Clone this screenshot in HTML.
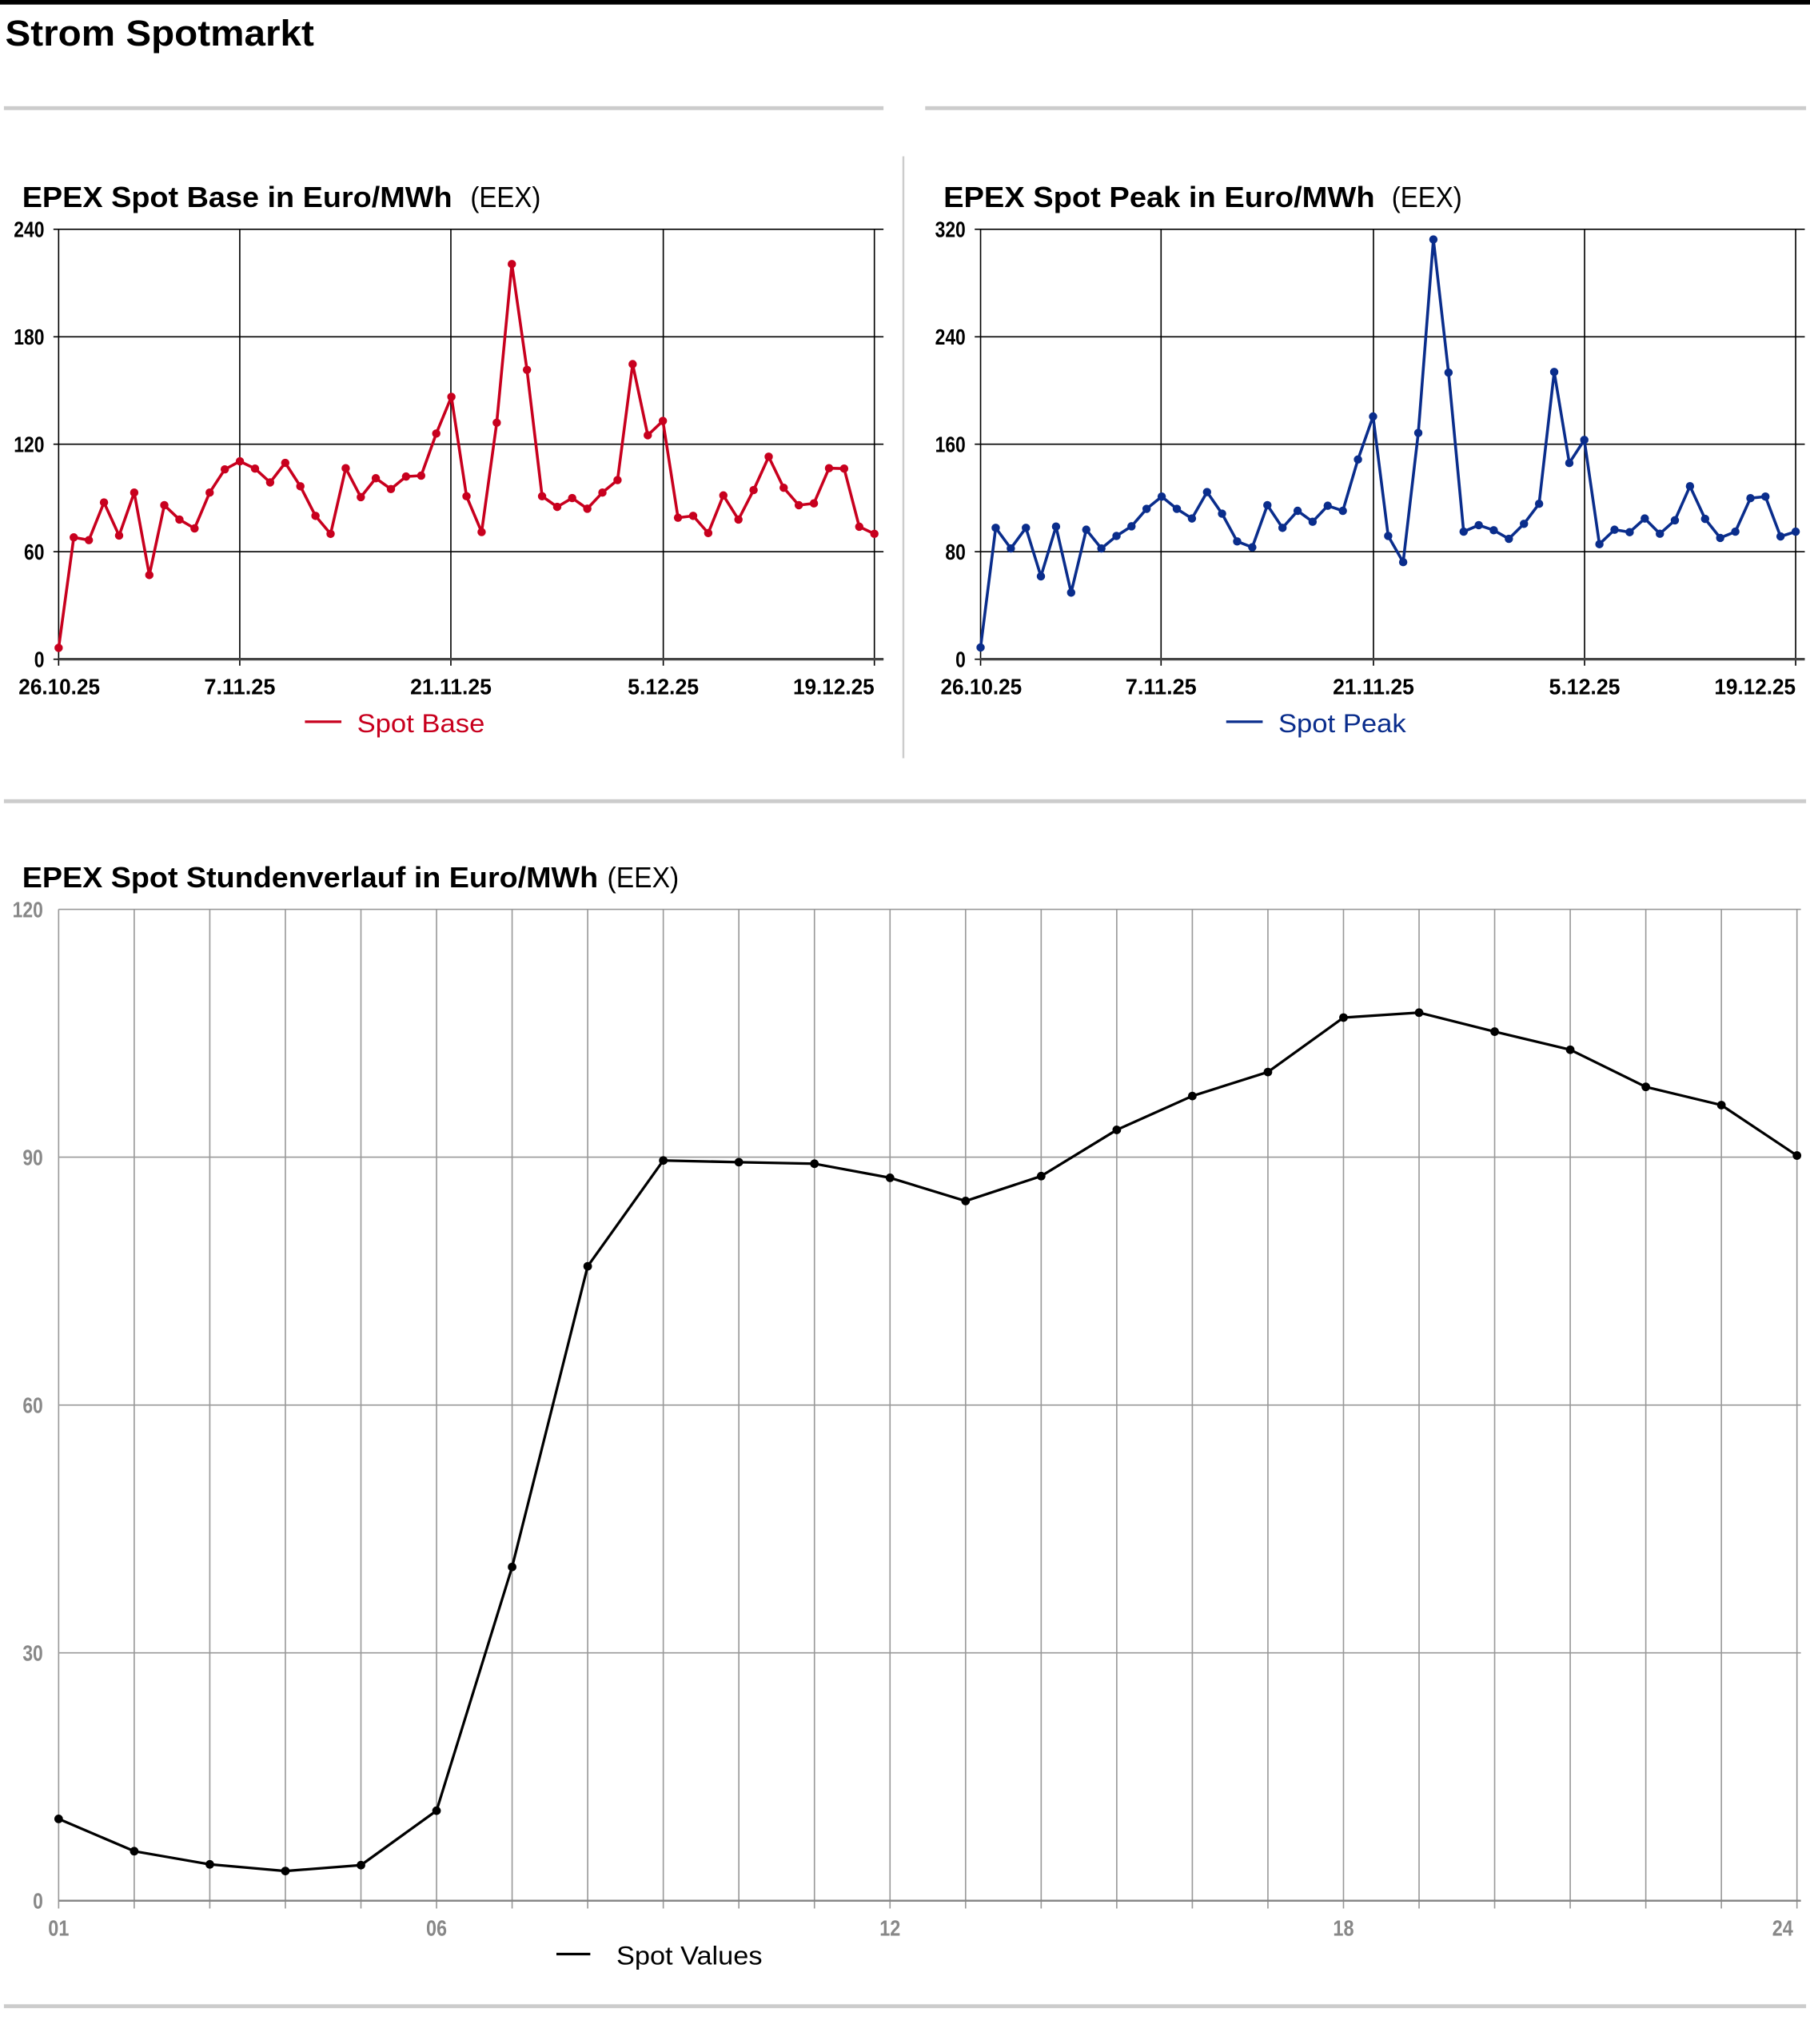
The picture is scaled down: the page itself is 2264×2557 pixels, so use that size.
<!DOCTYPE html>
<html><head><meta charset="utf-8"><style>
html,body{margin:0;padding:0;background:#fff;}
svg{display:block;}
text{font-family:"Liberation Sans",sans-serif;white-space:pre;}
.tk{font-weight:bold;font-size:17px;fill:#000;}
.tg{font-weight:bold;font-size:17px;fill:#888;}
</style></head><body>
<svg id="s" width="2264" height="2557" viewBox="0 0 1389 1569" preserveAspectRatio="none" xmlns="http://www.w3.org/2000/svg" xml:space="preserve">
<rect x="0" y="0" width="1389" height="3.5" fill="#000"/>
<text x="4" y="35" font-size="28" font-weight="bold" textLength="237" lengthAdjust="spacingAndGlyphs">Strom Spotmarkt</text>
<rect x="3" y="81.5" width="675" height="3" fill="#ccc"/>
<rect x="710" y="81.5" width="676" height="3" fill="#ccc"/>
<rect x="692.5" y="120" width="1.5" height="462" fill="#ccc"/>
<rect x="3" y="613.5" width="1383" height="3" fill="#ccc"/>
<rect x="3" y="1538.5" width="1383" height="3" fill="#ccc"/>
<text x="17" y="159" font-size="22" font-weight="bold" textLength="330" lengthAdjust="spacingAndGlyphs">EPEX Spot Base in Euro/MWh</text>
<text x="361" y="159" font-size="22" textLength="54" lengthAdjust="spacingAndGlyphs">(EEX)</text>
<text x="724" y="159" font-size="22" font-weight="bold" textLength="331" lengthAdjust="spacingAndGlyphs">EPEX Spot Peak in Euro/MWh</text>
<text x="1068" y="159" font-size="22" textLength="54" lengthAdjust="spacingAndGlyphs">(EEX)</text>
<text x="17" y="681" font-size="22" font-weight="bold" textLength="442" lengthAdjust="spacingAndGlyphs">EPEX Spot Stundenverlauf in Euro/MWh</text>
<text x="466" y="681" font-size="22" textLength="55" lengthAdjust="spacingAndGlyphs">(EEX)</text>
<g id="g"></g>
<line x1="234" y1="554" x2="262" y2="554" stroke="#c8001e" stroke-width="2"/>
<text x="274" y="562" font-size="20" fill="#c8001e" textLength="98" lengthAdjust="spacingAndGlyphs">Spot Base</text>
<line x1="941" y1="554" x2="969" y2="554" stroke="#0a2d8c" stroke-width="2"/>
<text x="981" y="562" font-size="20" fill="#0a2d8c" textLength="98" lengthAdjust="spacingAndGlyphs">Spot Peak</text>
<line x1="427" y1="1500" x2="453" y2="1500" stroke="#000" stroke-width="2"/>
<text x="473" y="1508" font-size="20" textLength="112" lengthAdjust="spacingAndGlyphs">Spot Values</text>
</svg>
<script>
var g=document.getElementById('g');var NS="http://www.w3.org/2000/svg";
function el(t,a,txt){var e=document.createElementNS(NS,t);for(var k in a)e.setAttribute(k,a[k]);if(txt!=null)e.textContent=txt;g.appendChild(e);return e;}
function tl(s){return (s.length*7.8).toFixed(1);}
function small(x0,x1,y0,y1,max,ticks,vals,col,datesX){
  var xr=x1;
  ticks.forEach(function(t){var y=y1-(y1-y0)*t/max;el('line',{x1:x0-4,x2:xr,y1:y,y2:y,stroke:'#000','stroke-width':1});
    el('text',{x:x0-11,y:y+6,'text-anchor':'end','class':'tk',textLength:tl(String(t)),lengthAdjust:'spacingAndGlyphs'},String(t));});
  var dl=['26.10.25','7.11.25','21.11.25','5.12.25','19.12.25'];
  datesX.forEach(function(x,i){el('line',{x1:x,x2:x,y1:y0,y2:y1+5,stroke:'#000','stroke-width':1});
    var a={x:i==4?x:x,y:533,'text-anchor':i==4?'end':'middle','class':'tk',textLength:tl(dl[i]),lengthAdjust:'spacingAndGlyphs'};
    if(i==0)a.x=x+0.5;
    el('text',a,dl[i]);});
  el('line',{x1:x0,x2:xr,y1:y1,y2:y1,stroke:'#444','stroke-width':2});
  var n=vals.length,sp=(datesX[4]-datesX[0])/(n-1),pts=[];
  vals.forEach(function(v,i){pts.push((datesX[0]+i*sp).toFixed(1)+','+(y1-(y1-y0)*v/max).toFixed(1));});
  el('polyline',{points:pts.join(' '),fill:'none',stroke:col,'stroke-width':2.2,'stroke-linejoin':'round'});
  pts.forEach(function(p){var a=p.split(',');el('circle',{cx:a[0],cy:a[1],r:3.2,fill:col});});
}
var base=[6.3,68,66.5,87.5,69,93,47,86,78,73,93,106,110.5,106.4,98.7,109.6,96.5,80,70,106.6,90.5,101,95,102,102.5,126,146.5,91,71,132,220.6,161.5,91,85,90,84,93,100,164.7,125,133,79,80,70.4,91.4,78,94.4,113,95.7,86,87,106.6,106.4,74,70];
var peak=[8.7,97.7,82.4,97.7,61.7,98.7,49.6,96.4,82.4,91.7,98.9,111.9,121,111.9,104.7,124.4,108.3,87.7,83.3,114.6,97.7,110.4,102.3,114.2,110.4,148.7,180.7,91.7,72.2,168.4,312.4,213.3,94.9,99.8,96,89.6,100.8,115.7,213.8,146,163.2,85.6,96.4,94.5,104.7,93.4,103.4,128.8,104.4,90.3,94.9,119.9,121,91.3,94.9];
small(45,678,176,506,240,[0,60,120,180,240],base,'#c8001e',[45,184,346,509,671]);
small(752,1385,176,506,320,[0,80,160,240,320],peak,'#0a2d8c',[752.5,891,1054,1216,1378]);
var X0=45,X1=1379,Y0=698,Y1=1459;
[0,30,60,90,120].forEach(function(t){var y=Y1-(Y1-Y0)*t/120;el('line',{x1:X0,x2:1382,y1:y,y2:y,stroke:'#999','stroke-width':1});
  el('text',{x:33,y:y+6,'text-anchor':'end','class':'tg',textLength:tl(String(t)),lengthAdjust:'spacingAndGlyphs'},String(t));});
var sp=(X1-X0)/23;
for(var i=0;i<24;i++){var x=X0+i*sp;el('line',{x1:x,x2:x,y1:Y0,y2:Y1+6,stroke:'#999','stroke-width':1});}
el('line',{x1:X0,x2:1382,y1:Y1,y2:Y1,stroke:'#888','stroke-width':1.5});
[[0,'01'],[5,'06'],[11,'12'],[17,'18'],[23,'24']].forEach(function(a){var x=X0+a[0]*sp;el('text',{x:a[0]==23?x-3:x,y:1486,'text-anchor':a[0]==23?'end':'middle','class':'tg',textLength:'16',lengthAdjust:'spacingAndGlyphs'},a[1]);});
var hv=[9.9,6.0,4.4,3.6,4.3,10.9,40.4,76.8,89.6,89.4,89.2,87.5,84.7,87.7,93.3,97.4,100.3,106.9,107.5,105.2,103,98.5,96.3,90.2];
var pts=hv.map(function(v,i){return (X0+i*sp).toFixed(1)+','+(Y1-(Y1-Y0)*v/120).toFixed(1);});
el('polyline',{points:pts.join(' '),fill:'none',stroke:'#000','stroke-width':2,'stroke-linejoin':'round'});
pts.forEach(function(p){var a=p.split(',');el('circle',{cx:a[0],cy:a[1],r:3.3,fill:'#000'});});
</script>
</body></html>
